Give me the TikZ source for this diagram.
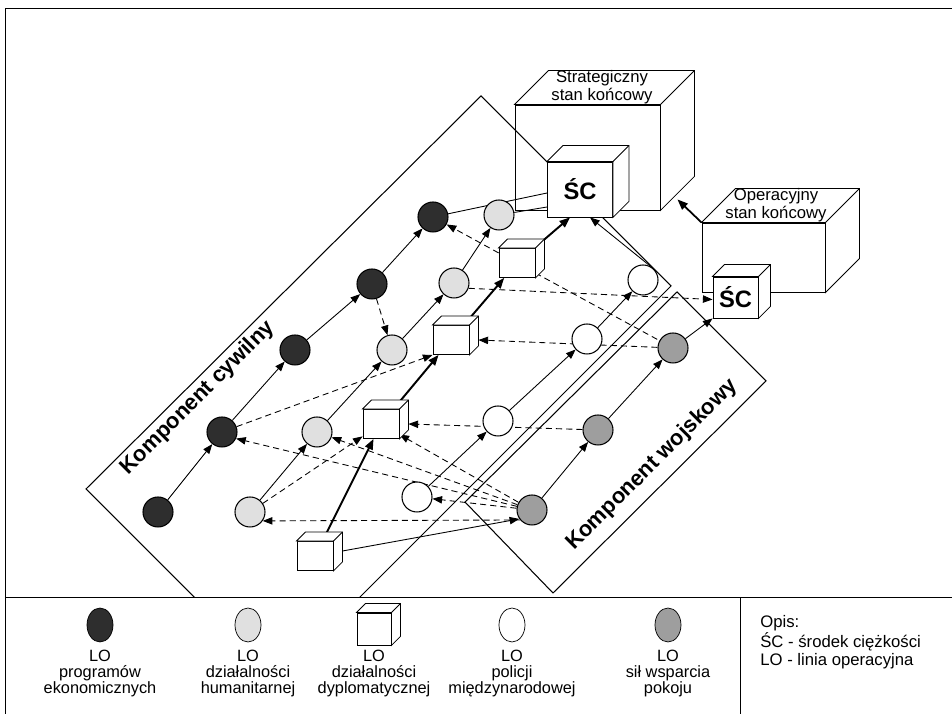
\documentclass[tikz,border=0pt]{standalone}
\usepackage{fontspec}
\setmainfont{Liberation Sans}
\usetikzlibrary{arrows.meta,shapes.geometric}

\pgfdeclarelayer{tlo}
\pgfsetlayers{tlo,main}

\definecolor{ekon}{gray}{0.18}
\definecolor{hum}{gray}{0.88}
\definecolor{wojsk}{gray}{0.62}

\tikzset{
  kolo/.style={circle, draw, line width=0.6pt, minimum size=6mm, inner sep=0pt},
  kostka/.style={draw, fill=white, line width=0.5pt, minimum width=7.2mm, minimum height=5.8mm, inner sep=0pt},
  linia/.style={line width=0.5pt, -{Triangle[length=5.5pt,width=4.2pt]}},
  gruba/.style={line width=1.1pt, -{Triangle[length=6pt,width=4.6pt]}},
  kreska/.style={linia, dash pattern=on 3.5pt off 2.3pt},
  napis/.style={font=\fontsize{9.5}{10}\selectfont, align=center, inner sep=0pt},
  legenda/.style={font=\fontsize{9.3}{9.1}\selectfont, align=center, inner sep=0pt},
  komponent/.style={font=\bfseries\fontsize{12.5}{14}\selectfont, rotate=45},
  sck/.style={kostka, font=\bfseries\fontsize{13.5}{15}\selectfont},
}

% scianka gorna i boczna prostopadloscianu
\newcommand{\bryla}[2]{%
  \draw[fill=white, line width=0.5pt] (#1.north west) -- ++(#2,#2) -- ([shift={(#2,#2)}]#1.north east)
     -- ([shift={(#2,#2)}]#1.south east) -- (#1.south east) -- (#1.north east) -- cycle;
  \draw[line width=0.5pt] (#1.north east) -- ++(#2,#2);
}

\begin{document}
\begin{tikzpicture}[x=0.2mm, y=0.2mm]
    \useasboundingbox (0,0) rectangle (952,714);
    % ramka
    \draw[line width=0.5pt] (952,706) -- (5,706) -- (5,0);
    \draw[line width=0.5pt] (5,117) -- (952,117);

    % LO programow ekonomicznych
    \node[kolo, fill=ekon] (e1) at (158,202) {};
    \node[kolo, fill=ekon] (e2) at (222,282) {};
    \node[kolo, fill=ekon] (e3) at (295,364) {};
    \node[kolo, fill=ekon] (e4) at (372,430) {};
    \node[kolo, fill=ekon] (e5) at (433,497) {};
    % LO dzialalnosci humanitarnej
    \node[kolo, fill=hum] (h1) at (250,202) {};
    \node[kolo, fill=hum] (h2) at (317,282) {};
    \node[kolo, fill=hum] (h3) at (392,364) {};
    \node[kolo, fill=hum] (h4) at (454,431) {};
    \node[kolo, fill=hum] (h5) at (499,499) {};
    % LO policji
    \node[kolo, fill=white] (p1) at (417,217) {};
    \node[kolo, fill=white] (p2) at (498,293) {};
    \node[kolo, fill=white] (p3) at (587,375) {};
    \node[kolo, fill=white] (p4) at (643,434) {};
    % LO sil wsparcia pokoju
    \node[kolo, fill=wojsk] (m1) at (532,204) {};
    \node[kolo, fill=wojsk] (m2) at (598,284) {};
    \node[kolo, fill=wojsk] (m3) at (673,366) {};
    % LO dzialalnosci dyplomatycznej
    \node[kostka] (d1) at (315,158) {}; \bryla{d1}{9}
    \node[kostka] (d2) at (381,290) {}; \bryla{d2}{9}
    \node[kostka] (d3) at (451,374) {}; \bryla{d3}{9}
    \node[kostka] (d4) at (517,451) {}; \bryla{d4}{9}
    % srodki ciezkosci
    \node[sck, minimum width=13mm, minimum height=11mm] (sc) at (580,524.5) {ŚC}; \bryla{sc}{16}
    \node[sck, minimum width=9mm, minimum height=8.2mm] (scop) at (735.5,416.5) {ŚC}; \bryla{scop}{12}

    \node[komponent] (kc) at (198,316) {Komponent cywilny};
    \node[komponent] (kw) at (652,249) {Komponent wojskowy};

    \begin{pgfonlayer}{tlo}
    % stany koncowe
    \node[kostka, minimum width=29mm, minimum height=21mm] (strat) at (587.5,556.5) {}; \bryla{strat}{34}
    \node[napis] (strat-napis) at (602,627) {Strategiczny\\stan końcowy};
    \node[kostka, minimum width=24.6mm, minimum height=13.8mm] (op) at (763.5,456.5) {}; \bryla{op}{34}
    \node[napis] (op-napis) at (776,509) {Operacyjny\\stan końcowy};
    \coordinate (strat-bok) at ([shift={(17,11)}]strat.south east);
    \draw[line width=1pt, -{Triangle[length=6pt,width=4.6pt]}] (op.north west) -- (strat-bok);

    % komponenty
    \draw[line width=0.6pt] (86,225) -- (481,618) -- (671,428) -- (277,34) -- cycle;
    \draw[line width=0.6pt] (465,212) -- (677,422) -- (766,333) -- (553,121) -- cycle;

    % linie operacyjne
    \draw[linia] (e1) -- (e2);
    \draw[linia] (e2) -- (e3);
    \draw[linia] (e3) -- (e4);
    \draw[linia] (e4) -- (e5);
    \draw[line width=0.5pt] (e5) -- ([yshift=-0.7mm]sc.west);
    \draw[linia] (h1) -- (h2);
    \draw[linia] (h2) -- (h3);
    \draw[linia] (h3) -- (h4);
    \draw[linia] (h4) -- (h5);
    \draw[line width=0.5pt] (h5) -- ([yshift=-3.5mm]sc.west);
    \draw[gruba] (d1) -- (d2);
    \draw[gruba] (d2) -- (d3);
    \draw[gruba] (d3) -- (d4);
    \draw[gruba] (d4) -- ([xshift=-2mm]sc.south);
    \draw[linia] (p1) -- (p2);
    \draw[linia] (p2) -- (p3);
    \draw[linia] (p3) -- (p4);
    \draw[linia] (p4.60) -- ([xshift=2mm]sc.south);
    \draw[linia] (m1) -- (m2);
    \draw[linia] (m2) -- (m3);
    \draw[linia] (m3) -- (scop.south west);
    \draw[linia] (d1) -- (m1.215);

    % powiazania
    \draw[kreska] (e4) -- (h3);
    \draw[kreska] (d4) -- (e5);
    \draw[kreska] (e2) -- (d3.south west);
    \draw[kreska] (h1) -- (d2);
    \draw[kreska] (m1) -- (e2.-25);
    \draw[kreska] (m1) -- (h2);
    \draw[kreska] (m1) -- (d2);
    \draw[kreska] (m1) -- (p1);
    \draw[kreska] (m1.220) -- (h1.-35);
    \draw[kreska] (m2) -- ([xshift=1.8mm]d2.east);
    \draw[kreska] (m3) -- ([xshift=1.8mm]d3.east);
    \draw[kreska] (h4.-20) -- ([yshift=-0.4mm]scop.west);
    \draw[line width=0.5pt, dash pattern=on 3.5pt off 2.3pt] (d4) -- (m3);
    \end{pgfonlayer}

    % legenda
    \draw[fill=white, line width=0.5pt] (5,117) rectangle (740,-5);
    \node[ellipse, draw, fill=ekon, minimum width=5.2mm, minimum height=6.8mm] (lek) at (100,89) {};
    \node[ellipse, draw, fill=hum, minimum width=5.2mm, minimum height=6.8mm] (lhum) at (248,89) {};
    \node[kostka, minimum width=6.8mm, minimum height=6.4mm] (ldyp) at (374,85) {}; \bryla{ldyp}{9}
    \node[ellipse, draw, fill=white, minimum width=5.2mm, minimum height=6.8mm] (lpol) at (512,89) {};
    \node[ellipse, draw, fill=wojsk, minimum width=5.2mm, minimum height=6.8mm] (lwoj) at (668,89) {};
    \node[legenda] (tek) at (100,40.5) {LO\\programów\\ekonomicznych};
    \node[legenda] (thum) at (248,40.5) {LO\\działalności\\humanitarnej};
    \node[legenda] (tdyp) at (374,40.5) {LO\\działalności\\dyplomatycznej};
    \node[legenda] (tpol) at (512,40.5) {LO\\policji\\międzynarodowej};
    \node[legenda] (twoj) at (668,40.5) {LO\\sił wsparcia\\pokoju};
    \node[legenda, align=left, anchor=west, font=\fontsize{9.5}{8.7}\selectfont] (opis) at (760,72)
        {Opis:\\ŚC - środek ciężkości\\LO - linia operacyjna};
\end{tikzpicture}
\end{document}
